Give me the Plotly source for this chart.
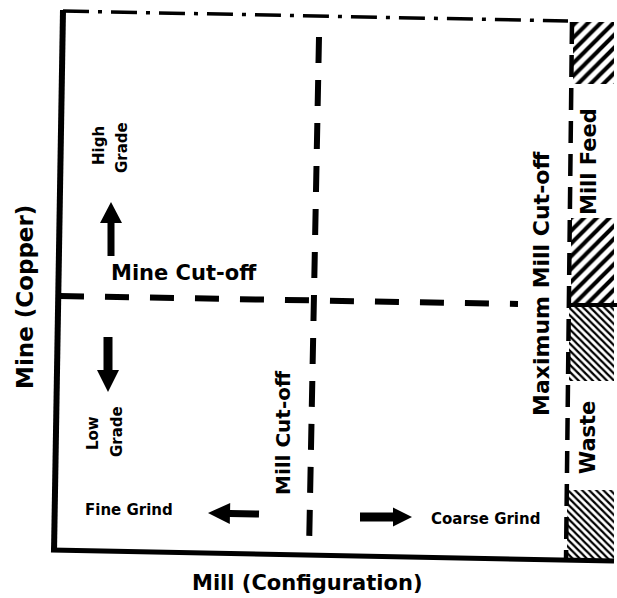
import math
import plotly.graph_objects as go

W, H = 617, 598
FONT = "DejaVu Sans"

# ---- text content of the diagram ----
axis_titles = ["Mine (Copper)", "Mill (Configuration)"]
cutoff_labels = ["Mine Cut-off", "Mill Cut-off", "Maximum Mill Cut-off"]
grade_labels = ["High", "Grade", "Low", "Grade"]
grind_labels = ["Fine Grind", "Coarse Grind"]
stream_labels = ["Mill Feed", "Waste"]

fig = go.Figure()


def seg(x0, y0, x1, y1, width, dash="solid"):
    fig.add_shape(type="line", x0=x0, y0=y0, x1=x1, y1=y1, xref="x", yref="y",
                  line=dict(color="black", width=width, dash=dash))


def hatch(x0, y0, x1, y1, shape, size, solidity):
    fig.add_trace(go.Scatter(
        x=[x0, x1, x1, x0, x0], y=[y0, y0, y1, y1, y0],
        fill="toself", mode="lines",
        line=dict(width=0, color="rgba(0,0,0,0)"),
        fillpattern=dict(shape=shape, size=size, solidity=solidity,
                         fgcolor="black", bgcolor="white", fillmode="replace"),
        hoverinfo="skip", showlegend=False))


def arrow(tx, ty, hx, hy, sw, hl, hw):
    dx, dy = hx - tx, hy - ty
    L = math.hypot(dx, dy)
    ux, uy = dx / L, dy / L
    px, py = -uy, ux
    bx, by = hx - ux * hl, hy - uy * hl
    pts = [(tx + px * sw / 2, ty + py * sw / 2), (bx + px * sw / 2, by + py * sw / 2),
           (bx + px * hw / 2, by + py * hw / 2), (hx, hy),
           (bx - px * hw / 2, by - py * hw / 2), (bx - px * sw / 2, by - py * sw / 2),
           (tx - px * sw / 2, ty - py * sw / 2)]
    path = "M " + " L ".join(f"{x:.1f},{y:.1f}" for x, y in pts) + " Z"
    fig.add_shape(type="path", path=path, xref="x", yref="y",
                  fillcolor="black", line=dict(width=0))


def label(text, x, y, size, angle=0):
    fig.add_annotation(text=text, x=x, y=y, xref="x", yref="y", showarrow=False,
                       textangle=angle, xanchor="center", yanchor="middle",
                       font=dict(family=FONT, size=size, color="black", weight="bold"))


# hatched stream boxes
hatch(573, 22, 614, 84, "/", 9, 0.45)
hatch(571, 218, 614, 304, "/", 9, 0.45)
hatch(569, 305, 614, 381, "\\", 5, 0.45)
hatch(567, 490, 614, 561, "\\", 5, 0.45)
seg(568, 305, 617, 305, 4)

# frame
seg(63, 10, 54, 552, 6)
seg(51, 550, 614, 561, 5)
seg(63, 11, 568, 21, 3.5, "26px,9px,4px,9px")

# cut-off lines
seg(60, 296, 518, 304, 6, "24px,21px")
seg(319, 37, 309, 551, 6, "26px,17px")
seg(572, 22, 566, 561, 4.5, "22px,11px")

# arrows
arrow(111, 256, 111, 202, 7, 21, 22)
arrow(108, 337, 108, 392, 9, 22, 22)
arrow(259, 514, 208, 513, 7, 22, 21)
arrow(360, 517, 412, 517, 9, 19, 19)

# labels
label(grade_labels[0], 99, 146, 15, -90)
label(grade_labels[1], 122, 148, 15, -90)
label(grade_labels[2], 93, 433, 15, -90)
label(grade_labels[3], 117, 432, 15, -90)
label(cutoff_labels[0], 184, 273, 21)
label(cutoff_labels[1], 283, 433, 20, -90)
label(cutoff_labels[2], 541, 284, 22, -90)
label(grind_labels[0], 129, 510, 15)
label(grind_labels[1], 485, 519, 15)
label(stream_labels[0], 589, 162, 21, -90)
label(stream_labels[1], 588, 438, 21, -90)
label(axis_titles[0], 25, 297, 23, -90)
label(axis_titles[1], 307, 583, 21)

fig.update_layout(
    width=W, height=H, margin=dict(l=0, r=0, t=0, b=0),
    paper_bgcolor="white", plot_bgcolor="white", showlegend=False,
    xaxis=dict(range=[0, W], visible=False, fixedrange=True),
    yaxis=dict(range=[H, 0], visible=False, fixedrange=True),
)

fig.write_html(
    "out.html",
    config={"responsive": False, "displayModeBar": False},
    post_script="document.body.style.margin='0';document.body.style.overflow='hidden';",
)
